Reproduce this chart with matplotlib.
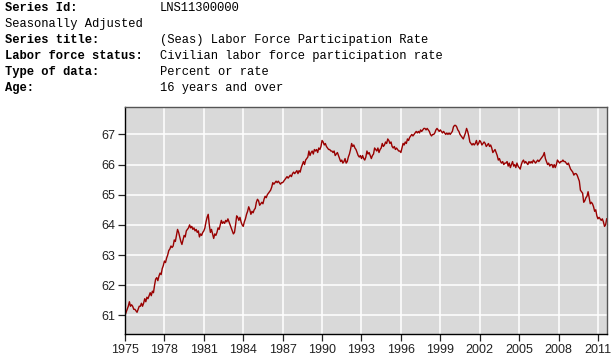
import numpy as np
import matplotlib
matplotlib.use('Agg')
import matplotlib.pyplot as plt

# header text (label, value, bold label?)
header_labels = ['Series Id:', 'Seasonally Adjusted', 'Series title:',
                 'Labor force status:', 'Type of data:', 'Age:']
header_values = ['LNS11300000', '', '(Seas) Labor Force Participation Rate',
                 'Civilian labor force participation rate', 'Percent or rate',
                 '16 years and over']
header_bold = [True, False, True, True, True, True]

start_year = 1975
# monthly participation rate, Jan 1975 - Sep 2011
lfpr = [
    61.0, 61.1, 61.2, 61.3, 61.45, 61.3, 61.35, 61.3, 61.2, 61.2, 61.15, 61.1,    # 1975
    61.2, 61.3, 61.3, 61.4, 61.3, 61.4, 61.55, 61.45, 61.6, 61.55, 61.65, 61.75,  # 1976
    61.65, 61.8, 61.75, 62.0, 62.2, 62.25, 62.15, 62.3, 62.4, 62.35, 62.55, 62.65,  # 1977
    62.8, 62.75, 62.9, 63.0, 63.15, 63.2, 63.3, 63.25, 63.3, 63.5, 63.45, 63.65,  # 1978
    63.85, 63.75, 63.6, 63.45, 63.35, 63.5, 63.65, 63.6, 63.8, 63.85, 63.9, 64.0,  # 1979
    63.9, 63.95, 63.85, 63.9, 63.8, 63.85, 63.75, 63.8, 63.6, 63.7, 63.65, 63.75,  # 1980
    63.8, 63.9, 64.1, 64.25, 64.35, 64.0, 63.75, 63.85, 63.7, 63.55, 63.7, 63.65,  # 1981
    63.75, 63.9, 63.85, 64.0, 64.15, 64.05, 64.1, 64.05, 64.15, 64.1, 64.2, 64.1,  # 1982
    64.0, 63.9, 63.8, 63.7, 63.75, 64.0, 64.3, 64.25, 64.15, 64.25, 64.1, 64.0,  # 1983
    63.95, 64.1, 64.2, 64.35, 64.45, 64.6, 64.5, 64.35, 64.45, 64.4, 64.5, 64.55,  # 1984
    64.75, 64.85, 64.8, 64.65, 64.7, 64.75, 64.7, 64.85, 64.95, 64.9, 65.0, 65.05,  # 1985
    65.1, 65.15, 65.25, 65.4, 65.35, 65.4, 65.45, 65.4, 65.45, 65.4, 65.35, 65.4,  # 1986
    65.4, 65.45, 65.5, 65.55, 65.6, 65.55, 65.6, 65.65, 65.6, 65.7, 65.75, 65.7,  # 1987
    65.75, 65.8, 65.7, 65.8, 65.75, 65.9, 66.0, 66.1, 66.0, 66.15, 66.2, 66.25,  # 1988
    66.45, 66.3, 66.4, 66.45, 66.35, 66.5, 66.45, 66.5, 66.4, 66.55, 66.5, 66.6,  # 1989
    66.8, 66.75, 66.65, 66.7, 66.6, 66.55, 66.5, 66.5, 66.45, 66.45, 66.4, 66.45,  # 1990
    66.3, 66.35, 66.4, 66.3, 66.2, 66.1, 66.15, 66.05, 66.1, 66.2, 66.05, 66.1,  # 1991
    66.25, 66.35, 66.5, 66.7, 66.6, 66.65, 66.55, 66.5, 66.4, 66.3, 66.25, 66.3,  # 1992
    66.2, 66.3, 66.2, 66.15, 66.25, 66.45, 66.35, 66.4, 66.3, 66.2, 66.3, 66.35,  # 1993
    66.55, 66.5, 66.45, 66.55, 66.4, 66.5, 66.55, 66.7, 66.6, 66.65, 66.75, 66.7,  # 1994
    66.85, 66.8, 66.7, 66.75, 66.6, 66.55, 66.6, 66.5, 66.55, 66.5, 66.45, 66.45,  # 1995
    66.4, 66.55, 66.7, 66.65, 66.75, 66.7, 66.85, 66.8, 66.9, 66.95, 67.0, 66.95,  # 1996
    67.0, 67.05, 67.1, 67.05, 67.1, 67.05, 67.15, 67.1, 67.15, 67.2, 67.2, 67.15,  # 1997
    67.2, 67.15, 67.1, 67.0, 66.95, 67.0, 67.0, 67.05, 67.15, 67.2, 67.15, 67.1,  # 1998
    67.15, 67.1, 67.05, 67.1, 67.05, 67.0, 67.05, 67.0, 67.05, 67.0, 67.05, 67.1,  # 1999
    67.25, 67.3, 67.3, 67.25, 67.15, 67.1, 67.0, 66.95, 66.9, 66.85, 66.95, 67.05,  # 2000
    67.2, 67.1, 66.95, 66.75, 66.7, 66.65, 66.7, 66.65, 66.7, 66.8, 66.65, 66.7,  # 2001
    66.8, 66.75, 66.65, 66.7, 66.75, 66.7, 66.6, 66.65, 66.7, 66.6, 66.65, 66.55,  # 2002
    66.4, 66.45, 66.5, 66.4, 66.3, 66.15, 66.2, 66.1, 66.05, 66.1, 66.0, 66.05,  # 2003
    66.05, 66.1, 65.95, 66.05, 65.9, 66.0, 66.1, 65.95, 66.0, 65.9, 66.05, 65.95,  # 2004
    65.9, 65.85, 66.0, 66.1, 66.15, 66.05, 66.1, 66.05, 66.0, 66.1, 66.05, 66.1,  # 2005
    66.05, 66.15, 66.1, 66.05, 66.1, 66.15, 66.1, 66.15, 66.2, 66.25, 66.3, 66.4,  # 2006
    66.2, 66.1, 66.0, 66.05, 65.95, 66.0, 66.0, 65.9, 66.0, 65.9, 66.0, 66.15,  # 2007
    66.1, 66.05, 66.1, 66.1, 66.15, 66.1, 66.1, 66.05, 66.0, 66.05, 65.95, 65.85,  # 2008
    65.8, 65.75, 65.65, 65.7, 65.7, 65.65, 65.55, 65.45, 65.15, 65.1, 65.05, 64.75,  # 2009
    64.8, 64.9, 64.95, 65.1, 64.9, 64.7, 64.75, 64.7, 64.6, 64.45, 64.5, 64.3,  # 2010
    64.2, 64.25, 64.2, 64.15, 64.2, 64.1, 63.95, 64.0, 64.2,  # 2011
]

year_ticks = list(range(1975, 2012, 3))
rate_ticks = [61, 62, 63, 64, 65, 66, 67]

t = start_year + np.arange(len(lfpr)) / 12.0

fig = plt.figure(figsize=(6.15, 3.6), dpi=100)

# header block
for i in range(len(header_labels)):
    y = 1 - (8 + i * 16) / 360
    fig.text(5 / 615, y, header_labels[i], family='Liberation Mono', fontsize=8.7,
             weight='bold' if header_bold[i] else 'normal', va='center', color='black')
    fig.text(160 / 615, y, header_values[i], family='Liberation Mono', fontsize=8.7,
             va='center', color='black')

ax = fig.add_axes([125 / 615, 1 - 334 / 360, 481.7 / 615, 227.3 / 360])
ax.set_facecolor('#d9d9d9')
ax.plot(t, lfpr, color='#990000', linewidth=1.0)

ax.set_xlim(t[0], t[-1])
ax.set_ylim(60.38, 67.92)
ax.set_xticks(year_ticks)
ax.set_yticks(rate_ticks)
ax.grid(True, color='white', linewidth=1.1)
ax.set_axisbelow(True)

ax.tick_params(direction='out', length=5, width=0.9, labelsize=9, colors='#222222', pad=2)
for lab in ax.get_xticklabels() + ax.get_yticklabels():
    lab.set_family('Liberation Sans')
for side in ['left', 'bottom']:
    ax.spines[side].set_color('black')
    ax.spines[side].set_linewidth(1.0)
for side in ['top', 'right']:
    ax.spines[side].set_color('#555555')
    ax.spines[side].set_linewidth(1.0)

plt.savefig('out.png', dpi=100)
